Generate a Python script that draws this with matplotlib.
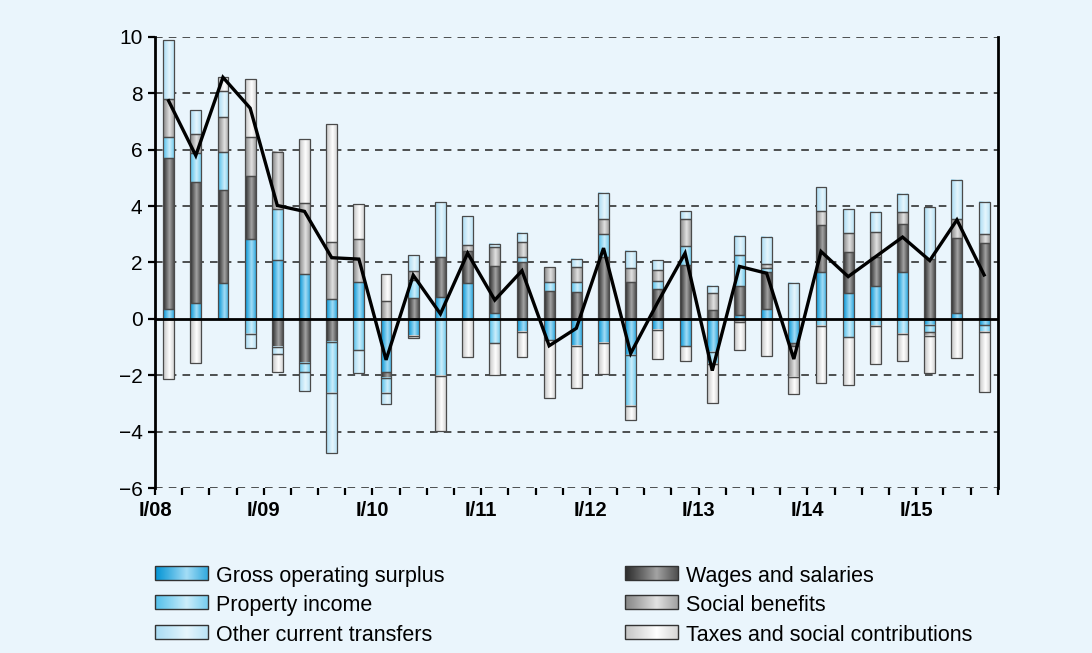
import numpy as np
import matplotlib.pyplot as plt
from matplotlib.colors import to_rgb
from matplotlib.patches import Rectangle

plt.rcParams["font.family"] = ["Liberation Sans", "DejaVu Sans"]

# quarterly contributions, I/08 .. III/15
gos = [0.34, 0.58, 1.29, 2.83, 2.09, 1.60, 0.70, 1.32, -1.87, -0.60, 0.79, 1.26, 0.20, -0.45, -0.74, -0.96,
       -0.85, -1.28, -0.39, -0.96, -1.16, 0.14, 0.34, -0.86, 1.65, 0.91, 1.15, 1.68, -0.21, 0.20, -0.21]
wages = [5.36, 4.27, 3.28, 2.24, -0.98, -1.57, -0.80, 0.0, -0.21, 0.73, 1.42, 1.13, 1.69, 2.01, 1.00, 0.97,
         2.21, 1.30, 1.05, 1.91, 0.30, 1.01, 1.31, -0.10, 1.68, 1.45, 1.06, 1.69, 2.13, 2.66, 2.68]
prop_income = [0.74, 1.02, 1.36, -0.54, 1.79, -0.32, -1.81, -1.10, -0.56, 0.65, -2.03, 0.0, -0.86, 0.20, 0.32, 0.35,
               0.79, -1.81, 0.30, 0.66, -0.44, 1.11, 0.15, 0.0, -0.24, -0.65, -0.25, -0.53, -0.26, 0.0, -0.24]
social = [1.35, 0.69, 1.21, 1.37, 2.03, 2.51, 2.04, 1.52, 0.65, 0.33, 0.0, 0.23, 0.65, 0.51, 0.52, 0.51,
          0.53, 0.50, 0.39, 0.98, 0.61, -0.12, 0.15, -1.08, 0.51, 0.68, 0.86, 0.41, -0.12, 0.67, 0.32]
other = [2.08, 0.83, 0.95, -0.50, -0.27, -0.66, -2.13, -0.80, -0.39, 0.54, 1.93, 1.01, 0.13, 0.32, 0.0, 0.30,
         0.93, 0.62, 0.35, 0.26, 0.27, 0.68, 0.97, 1.29, 0.83, 0.85, 0.71, 0.64, 1.83, 1.39, 1.16]
taxes = [-2.14, -1.55, 0.47, 2.05, -0.62, 2.26, 4.17, 1.23, 0.95, -0.08, -1.95, -1.34, -1.13, -0.89, -2.05, -1.50,
         -1.10, -0.50, -1.03, -0.53, -1.39, -0.98, -1.31, -0.62, -2.04, -1.69, -1.36, -0.96, -1.34, -1.39, -2.13]
total = [7.73, 5.79, 8.56, 7.47, 4.02, 3.81, 2.17, 2.12, -1.45, 1.55, 0.18, 2.33, 0.67, 1.71, -0.95, -0.33,
         2.51, -1.22, 0.60, 2.33, -1.83, 1.86, 1.62, -1.42, 2.39, 1.50, 2.20, 2.90, 2.07, 3.51, 1.56]

years = ["08", "09", "10", "11", "12", "13", "14", "15"]
tick_labels = ["I/" + y for y in years]

# stacking order = drawing order; (label, values, edge colour, centre colour)
series = [
    ("Gross operating surplus", gos, "#0093d4", "#a4ddf6"),
    ("Wages and salaries", wages, "#2a2a2a", "#a3a3a3"),
    ("Property income", prop_income, "#52bfea", "#cdeefb"),
    ("Social benefits", social, "#858585", "#e2e2e2"),
    ("Other current transfers", other, "#a8dbf3", "#e6f6fd"),
    ("Taxes and social contributions", taxes, "#c4c4c4", "#ffffff"),
]
legend_order = [0, 2, 4, 1, 3, 5]

bg = "#eaf5fc"


def gradient(edge, centre, n=64):
    t = np.linspace(0, 1, n)
    w = np.clip(1 - np.abs(t - 0.6) / 0.62, 0, 1) ** 1.1
    e, c = np.array(to_rgb(edge)), np.array(to_rgb(centre))
    return (e[None, :] * (1 - w[:, None]) + c[None, :] * w[:, None])[None, :, :]


fig = plt.figure(figsize=(10.92, 6.53), dpi=100, facecolor=bg)
ax = fig.add_axes([155 / 1092, 1 - 488.3 / 653, 842.7 / 1092, 451.6 / 653])
ax.set_facecolor(bg)

n = len(total)
x = np.arange(n) + 0.5
width = 0.4
pos_b = np.zeros(n)
neg_b = np.zeros(n)
for label, vals, ec, cc in series:
    v = np.array(vals)
    bottom = np.where(v >= 0, pos_b, neg_b)
    bars = ax.bar(x, v, width, bottom=bottom, facecolor="none", edgecolor="#4a4a4a", lw=0.9, zorder=4)
    img = gradient(ec, cc)
    for r in bars:
        if abs(r.get_height()) < 1e-9:
            r.set_visible(False)
            continue
        x0, y0 = r.get_x(), r.get_y()
        x1, y1 = x0 + r.get_width(), y0 + r.get_height()
        ax.imshow(img, extent=[x0, x1, min(y0, y1), max(y0, y1)], aspect="auto",
                  interpolation="bilinear", zorder=3)
    pos_b += np.where(v > 0, v, 0)
    neg_b += np.where(v < 0, v, 0)

ax.plot(x, total, color="black", lw=2.4, zorder=6, solid_joinstyle="miter")
ax.axhline(0, color="black", lw=2.0, zorder=5)

for yv in [-6, -4, -2, 2, 4, 6, 8, 10]:
    ax.axhline(yv, color="#222222", lw=1.1, ls=(0, (5, 4)), zorder=1)

ax.set_xlim(0, n)
ax.set_ylim(-6, 10)
ax.set_yticks(range(-6, 11, 2))
ax.set_yticklabels([str(v).replace("-", "\u2212") for v in range(-6, 11, 2)], fontsize=15)
ax.set_xticks(np.arange(0, n + 1))
ax.set_xticklabels([tick_labels[i // 4] if i % 4 == 0 and i < n else "" for i in range(n + 1)],
                   fontsize=14.5, fontweight="bold")
ax.tick_params(axis="both", direction="out", length=5, width=1.6, color="black", pad=4)
for side in ["top", "bottom"]:
    ax.spines[side].set_visible(False)
for side in ["left", "right"]:
    ax.spines[side].set_linewidth(2.0)

# legend drawn in pixel space
lax = fig.add_axes([0, 0, 1, 1])
lax.set_xlim(0, 1092)
lax.set_ylim(653, 0)
lax.axis("off")
lax.patch.set_alpha(0)
rows = [573, 602, 632]
cols = [155, 625]
for k, idx in enumerate(legend_order):
    label, _, ec, cc = series[idx]
    sx = cols[k // 3]
    sy = rows[k % 3]
    lax.imshow(gradient(ec, cc), extent=[sx, sx + 53, sy + 7, sy - 7], aspect="auto",
               interpolation="bilinear", zorder=2)
    lax.add_patch(Rectangle((sx, sy - 7), 53, 14, facecolor="none", edgecolor="#333333", lw=1.0, zorder=3))
    lax.text(sx + 61, sy + 1, label, fontsize=15.5, va="center_baseline", ha="left")
lax.set_xlim(0, 1092)
lax.set_ylim(653, 0)

fig.savefig("out.png", dpi=100, facecolor=bg)
